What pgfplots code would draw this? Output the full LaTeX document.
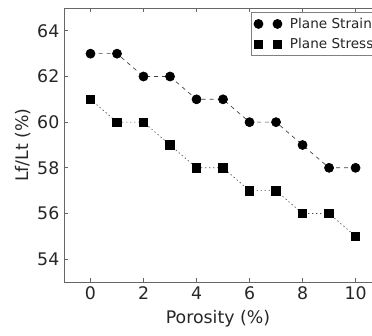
\documentclass[border=0pt]{standalone}
\usepackage{pgfplots}
\pgfplotsset{compat=1.18}
\usepackage{fontspec}
\setmainfont{DejaVu Sans}
\begin{document}
\begin{tikzpicture}
\begin{axis}[
  scale only axis,
  width=231pt, height=205.5pt,
  xmin=-1, xmax=10.62, ymin=53, ymax=65,
  axis x line=box, axis y line=left,
  axis line style={black!60, line width=0.6pt, -},
  xtick={0,2,4,6,8,10}, ytick={54,56,58,60,62,64},
  tick align=inside,
  major tick length=3pt,
  tick style={black!60, line width=0.5pt},
  /pgf/number format/assume math mode=true,
  tick label style={font=\fontsize{13}{15}\selectfont, text=black!85},
  label style={font=\fontsize{13}{15}\selectfont, text=black!85},
  xlabel={Porosity (\%)},
  ylabel={Lf/Lt (\%)},
  xlabel style={yshift=-1pt},
  ylabel style={yshift=-2pt},
  legend style={at={(rel axis cs:0.607,0.985)}, anchor=north west,
    draw=black!50, line width=0.5pt, font=\fontsize{10.2}{12}\selectfont,
    inner sep=2pt, row sep=2pt, cells={anchor=west}, text=black!85},
  legend image code/.code={\draw[#1, only marks] plot coordinates {(0cm,0cm) (0.5cm,0cm)};},
  clip=false,
]
\coordinate (A) at (rel axis cs:0,0);
\coordinate (B) at (rel axis cs:1,1);
\addplot[black!75, line width=0.5pt, dash pattern=on 3pt off 3pt, mark=*, mark size=3.4pt, mark options={solid, fill=black, draw=black}]
  coordinates {(0,63) (1,63) (2,62) (3,62) (4,61) (5,61) (6,60) (7,60) (8,59) (9,58) (10,58)};
\addlegendentry{\hspace{4pt}Plane Strain\hspace{6pt}}
\addplot[black!70, line width=0.5pt, dash pattern=on 1pt off 2pt, mark=square*, mark size=3.2pt, mark options={solid, fill=black, draw=black}]
  coordinates {(0,61) (1,60) (2,60) (3,59) (4,58) (5,58) (6,57) (7,57) (8,56) (9,56) (10,55)};
\addlegendentry{\hspace{4pt}Plane Stress\hspace{6pt}}
\end{axis}
\pgfresetboundingbox
\path[use as bounding box] ([shift={(-48pt,-40.5pt)}]A) rectangle ([shift={(0pt,6pt)}]B);
\end{tikzpicture}
\end{document}
